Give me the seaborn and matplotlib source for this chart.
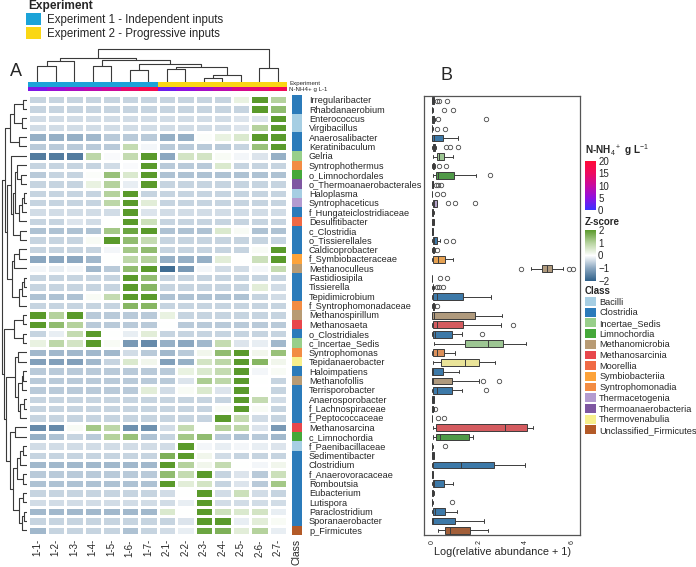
import numpy as np
import pandas as pd
import matplotlib
matplotlib.use("Agg")
import matplotlib.pyplot as plt
import matplotlib.cm as cm
import seaborn as sns
from matplotlib.colors import LinearSegmentedColormap, ListedColormap, Normalize
from matplotlib.patches import Patch

# ---- data ----
samples = ["1-1-", "1-2-", "1-3-", "1-4-", "1-5-", "1-6-", "1-7-",
           "2-1-", "2-2-", "2-3-", "2-4-", "2-5-", "2-6-", "2-7-"]
experiment = [1, 1, 1, 1, 1, 1, 1, 2, 2, 2, 2, 2, 2, 2]
nh4 = [4, 6, 7.5, 9, 10.5, 14, 17, 3, 5, 7, 9, 11.5, 13.5, 16]

taxa = ["Irregularibacter", "Rhabdanaerobium", "Enterococcus", "Virgibacillus",
        "Anaerosalibacter", "Keratinibaculum", "Gelria", "Syntrophothermus",
        "o_Limnochordales", "o_Thermoanaerobacterales", "Haloplasma",
        "Syntrophaceticus", "f_Hungateiclostridiaceae", "Desulfitibacter",
        "c_Clostridia", "o_Tissierellales", "Caldicoprobacter",
        "f_Symbiobacteraceae", "Methanoculleus", "Fastidiosipila", "Tissierella",
        "Tepidimicrobium", "f_Syntrophomonadaceae", "Methanospirillum",
        "Methanosaeta", "o_Clostridiales", "c_Incertae_Sedis", "Syntrophomonas",
        "Tepidanaerobacter", "Haloimpatiens", "Methanofollis", "Terrisporobacter",
        "Anaerosporobacter", "f_Lachnospiraceae", "f_Peptococcaceae",
        "Methanosarcina", "c_Limnochordia", "f_Paenibacillaceae",
        "Sedimentibacter", "Clostridium", "f_Anaerovoracaceae", "Romboutsia",
        "Eubacterium", "Lutispora", "Paraclostridium", "Sporanaerobacter",
        "p_Firmicutes"]

taxon_class = ["Clostridia", "Clostridia", "Bacilli", "Bacilli", "Clostridia",
               "Clostridia", "Incertae_Sedis", "Syntrophomonadia", "Limnochordia",
               "Thermoanaerobacteria", "Bacilli", "Thermacetogenia", "Clostridia",
               "Moorellia", "Clostridia", "Clostridia", "Clostridia",
               "Symbiobacteriia", "Methanomicrobia", "Clostridia", "Clostridia",
               "Clostridia", "Syntrophomonadia", "Methanomicrobia",
               "Methanosarcinia", "Clostridia", "Incertae_Sedis",
               "Syntrophomonadia", "Thermovenabulia", "Clostridia",
               "Methanomicrobia", "Clostridia", "Clostridia", "Clostridia",
               "Clostridia", "Methanosarcinia", "Limnochordia", "Bacilli",
               "Clostridia", "Clostridia", "Clostridia", "Clostridia", "Clostridia",
               "Clostridia", "Clostridia", "Clostridia", "Unclassified_Firmicutes"]

classes = ["Bacilli", "Clostridia", "Incertae_Sedis", "Limnochordia",
           "Methanomicrobia", "Methanosarcinia", "Moorellia", "Symbiobacteriia",
           "Syntrophomonadia", "Thermacetogenia", "Thermoanaerobacteria",
           "Thermovenabulia", "Unclassified_Firmicutes"]
class_colors = ["#a6cee3", "#2b7bba", "#98cf8a", "#45a83a", "#b89b74", "#e8474c",
                "#f06a45", "#fda33a", "#f28c44", "#b39bd0", "#7e57a1", "#f7ef8c",
                "#b35a28"]

# z-scores, one row per taxon, columns as in `samples`
zscore = [
    [-.5, -.5, -.5, -.5, -.5, -.5, -.5, -.5, -.5, -.5, -.5, .3, 2.5, 1.0],
    [-.5, -.5, -.5, -.5, -.5, -.5, -.5, -.5, -.5, -.5, -.5, -.5, 2.5, 1.4],
    [-.4, -.4, -.4, -.4, -.4, -.4, -.4, -.4, -.4, -.4, -.4, -.3, -.3, 2.5],
    [-.4, -.4, -.4, -.4, -.4, -.4, -.4, -.4, -.4, -.4, -.4, -.3, 1.0, 2.5],
    [-.9, -.9, -.9, -.8, -.6, -.6, -.6, -.9, -.9, .05, .3, .5, 2.5, 2.5],
    [-.6, -.6, -.6, -.6, -.6, .8, -.1, -.6, -.6, -.6, -.6, -.5, 1.3, 2.5],
    [-1.6, -1.6, -1.6, .9, -.05, .8, 2.5, -1.0, .6, .6, .1, -.1, -.3, -.9],
    [-.5, -.5, -.5, -.5, -.4, -.05, 2.5, -.6, -.6, -.6, .5, -.5, -.5, -.5],
    [-.6, -.5, -.5, .05, 1.3, .5, 2.5, -.7, -.7, -.7, -.7, -.7, -.7, -.7],
    [-.5, -.5, -.5, .3, 1.0, -.2, 2.5, -.5, -.5, -.5, -.5, -.5, -.5, -.5],
    [-.5, -.5, -.5, -.5, 1.0, 2.5, -.5, -.5, -.5, -.5, -.5, -.5, -.5, -.5],
    [-.5, -.5, -.5, -.5, .9, 2.5, .4, -.5, -.5, -.5, -.5, -.5, -.5, -.5],
    [-.4, -.4, -.4, -.4, -.4, 2.5, -.3, -.4, -.4, -.4, -.4, -.4, -.4, -.4],
    [-.5, -.5, -.3, -.4, 0, 2.5, .7, -.5, -.5, -.5, -.5, -.5, -.5, -.5],
    [-.7, -.7, -.7, -.7, 1.2, 1.8, 2.5, -.7, -.7, -.7, .5, .1, -.7, -.7],
    [-.5, -.5, -.5, .1, 2.5, 1.4, .8, -.5, -.5, -.5, -.5, -.5, -.5, -.5],
    [-.5, -.5, -.5, -.5, -.1, 1.2, 1.4, -.5, -.5, -.5, -.5, -.5, .1, 2.5],
    [-1.0, -1.0, -1.0, -.8, 0, .9, 1.0, -.9, -.9, -.9, .4, 0, .7, 2.5],
    [-.1, -.2, -.1, -.8, -.6, 1.4, 2.5, -1.8, -1.2, -.1, -.4, -.4, -.1, .8],
    [-.5, -.5, -.5, -.5, -.5, 2.5, 1.4, -.5, -.5, -.5, -.5, -.5, -.5, -.5],
    [-.5, -.5, -.5, -.5, -.5, 2.5, 1.5, -.5, -.5, -.5, -.5, -.5, .4, -.4],
    [-.7, -.7, -.7, .1, .8, 2.5, 2.5, -.7, -.7, -.7, -.7, -.7, -.5, -.4],
    [-.5, -.5, -.5, -.5, -.5, 1.5, 1.5, -.5, -.5, -.5, -.5, -.5, -.5, -.5],
    [2.5, 1.0, 2.5, -.6, -.6, -.6, -.6, .3, -.5, -.5, -.5, -.5, -.5, -.5],
    [2.5, 1.4, 1.0, -.6, -.6, -.6, -.6, 0, -.6, -.6, -.6, -.6, -.6, -.6],
    [-.5, -.2, .8, 2.5, 0, -.2, .4, -.5, -.5, -.5, -.5, -.5, -.5, -.5],
    [.3, .9, .6, 2.5, .1, -1.2, -1.4, -.9, -1.0, -.8, .8, -.3, -.2, -.8],
    [-.8, -.8, -.8, -.8, -.8, -.4, -.6, -.8, -.6, .2, 1.4, 2.5, .2, 1.3],
    [-1.1, -1.1, -1.1, -.8, -.5, .5, .2, -1.1, -.9, .6, .9, 2.5, 1.5, .2],
    [-.6, -.6, -.6, -.6, -.6, -.6, -.6, -.6, .3, .5, .8, 2.5, -.1, .1],
    [-.6, -.6, -.6, -.6, -.6, -.6, -.6, -.6, -.3, 1.1, .9, 2.5, 0, -.5],
    [-.6, -.6, -.6, -.6, -.6, -.6, .4, -.4, .1, .5, -.3, 2.5, 0, -.5],
    [-.5, -.5, -.5, -.5, -.5, -.5, -.5, -.5, -.5, -.5, -.5, 2.5, .8, -.4],
    [-.5, -.5, -.5, -.5, -.5, -.5, -.5, -.5, -.5, -.5, .1, 2.5, .1, -.5],
    [-.5, -.5, -.5, -.5, -.5, -.5, -.5, -.5, -.5, -.5, 2.5, .8, -.4, -.5],
    [-1.4, -1.4, .1, 1.2, .9, -1.3, -1.3, -.4, .8, 0, 1.0, .9, -.3, -1.2],
    [-.9, -.7, -.5, -.6, 1.0, 1.3, -.7, -.5, 1.2, 1.4, -.6, -.7, -.6, -.8],
    [-.4, -.4, -.4, -.4, -.4, -.4, -.4, -.4, 2.5, -.1, -.2, -.1, -.2, -.3],
    [-.5, -.5, -.5, -.5, -.5, -.5, -.5, 1.6, 2.5, .2, -.4, -.5, -.5, -.5],
    [-.8, -.8, -.8, -.8, -.8, -.8, -.8, 2.5, 1.0, .2, .8, 0, -.1, .2],
    [-.6, -.6, -.6, -.6, -.6, -.6, -.6, 1.4, .8, 2.5, -.5, -.3, -.6, .7],
    [-.7, -.7, -.7, -.7, -.7, -.7, -.7, 2.5, .4, .6, -.5, -.3, -.6, 1.2],
    [-.5, -.5, -.5, -.5, -.5, -.5, -.5, -.4, 0, 2.5, -.4, .7, -.4, -.5],
    [-.4, -.4, -.4, -.4, -.4, -.4, -.4, -.4, -.2, 2.5, -.4, -.4, -.4, -.4],
    [-.8, -.8, -.8, -.8, -.8, -.8, -.8, .5, 0, 2.5, .7, .5, .6, -.2],
    [-.5, -.5, -.5, -.5, -.5, -.5, -.5, -.5, -.3, 2.5, 2.5, -.2, .4, .1],
    [-.8, -.5, -.5, -.5, -.5, -.7, -.5, -.4, -.2, 1.8, 1.6, .4, 1.0, -.2],
]

# log(relative abundance + 1), 14 samples per taxon
abundance = [
    [0, 0, 0, .01, .02, .03, .04, .05, .06, .07, .09, .22, .28, .65],
    [0, 0, 0, 0, 0, 0, 0, 0, 0, .01, .01, .02, .5, .9],
    [0, 0, 0, .01, .02, .03, .04, .05, .06, .08, .1, .12, .25, 2.3],
    [0, 0, 0, 0, 0, 0, 0, 0, .01, .01, .01, .02, .2, .55],
    [0, 0, 0, .01, .02, .05, .08, .12, .2, .3, .5, .7, .9, 1.1],
    [0, .01, .02, .03, .04, .05, .06, .07, .08, .1, .15, .6, .75, 1.1],
    [.03, .1, .15, .2, .22, .25, .28, .32, .38, .45, .5, .6, .75, .9],
    [0, 0, .01, .02, .03, .04, .05, .06, .07, .08, .1, .12, .3, .6],
    [.03, .08, .12, .16, .2, .22, .24, .26, .4, .7, 1.0, 1.4, 1.9, 2.5],
    [0, 0, 0, 0, .01, .01, .02, .02, .03, .04, .05, .15, .25, .4],
    [0, 0, 0, 0, 0, 0, 0, 0, 0, .01, .01, .01, .2, .45],
    [0, 0, .01, .02, .03, .05, .06, .08, .1, .15, .22, .7, 1.0, 1.85],
    [0, 0, 0, .01, .01, .02, .03, .03, .04, .05, .06, .07, .08, .1],
    [0, 0, 0, .01, .02, .02, .03, .04, .05, .06, .07, .08, .09, .1],
    [0, 0, 0, 0, .01, .01, .01, .02, .02, .03, .03, .04, .04, .05],
    [0, 0, .01, .02, .04, .06, .08, .1, .13, .17, .22, .35, .6, .9],
    [0, 0, .01, .02, .03, .04, .05, .06, .07, .08, .09, .1, .12, .2],
    [0, 0, .01, .02, .1, .18, .22, .28, .35, .45, .6, .7, .8, .91],
    [3.8, 4.23, 4.5, 4.68, 4.75, 4.85, 4.9, 4.98, 5.05, 5.12, 5.18, 5.6, 5.89, 6.06],
    [0, 0, 0, 0, 0, 0, 0, 0, 0, .01, .01, .01, .35, .63],
    [0, .01, .01, .02, .02, .03, .03, .04, .05, .05, .06, .2, .3, .45],
    [0, 0, 0, .01, .05, .12, .18, .22, .5, 1.0, 1.45, 1.8, 2.2, 2.53],
    [0, 0, .01, .02, .03, .04, .05, .06, .07, .08, .09, .1, .12, .2],
    [0, 0, 0, 0, .02, .05, .08, .1, .5, 1.5, 1.95, 2.3, 2.6, 2.99],
    [0, 0, 0, .01, .05, .12, .18, .22, .6, 1.0, 1.45, 2.2, 2.96, 3.49],
    [0, 0, 0, .01, .05, .1, .12, .14, .4, .7, .9, 1.1, 1.3, 2.16],
    [.06, .5, 1.0, 1.35, 1.6, 2.0, 2.3, 2.52, 2.7, 2.95, 3.05, 3.5, 3.8, 4.01],
    [0, 0, 0, .01, .05, .15, .18, .22, .3, .45, .5, .7, .85, .96],
    [.03, .15, .3, .35, .45, .9, 1.3, 1.52, 1.7, 1.95, 2.03, 2.4, 2.55, 2.71],
    [0, 0, 0, 0, .01, .02, .02, .03, .2, .4, .5, .7, .9, 1.14],
    [0, 0, 0, 0, .02, .04, .05, .06, .3, .7, .9, 2.01, 2.2, 2.89],
    [0, 0, 0, .01, .05, .15, .18, .22, .4, .7, .9, 1.1, 1.3, 2.3],
    [0, 0, 0, .01, .02, .02, .03, .04, .05, .06, .07, .08, .09, .1],
    [0, 0, 0, .01, .01, .02, .02, .03, .03, .04, .05, .06, .07, .12],
    [0, 0, 0, 0, 0, 0, 0, 0, 0, .01, .01, .01, .27, .51],
    [.03, .08, .12, .15, .25, 1.5, 3.0, 3.26, 3.6, 3.9, 4.15, 4.2, 4.25, 4.31],
    [.03, .08, .12, .15, .25, .3, .32, .36, .9, 1.5, 1.6, 1.65, 1.7, 1.77],
    [0, 0, 0, 0, 0, 0, 0, 0, 0, .01, .01, .01, .02, .57],
    [0, 0, 0, .01, .02, .02, .03, .04, .05, .06, .07, .08, .09, .1],
    [0, 0, 0, .01, .2, .6, 1.1, 1.36, 1.8, 2.5, 2.68, 3.4, 3.7, 4.0],
    [0, 0, 0, 0, .01, .01, .01, .02, .02, .03, .03, .04, .04, .05],
    [0, 0, 0, .01, .04, .08, .09, .11, .2, .4, .55, .65, .8, .91],
    [0, 0, 0, .01, .01, .02, .02, .03, .04, .05, .06, .07, .08, .1],
    [0, 0, 0, 0, 0, 0, 0, 0, 0, .01, .01, .01, .02, .84],
    [0, 0, 0, .01, .05, .1, .12, .14, .25, .45, .6, .75, .9, 1.06],
    [0, 0, 0, 0, .01, .02, .03, .03, .2, .8, 1.05, 1.5, 1.9, 2.21],
    [.23, .35, .45, .52, .68, .72, .74, .76, .9, 1.5, 1.69, 2.0, 2.2, 2.39],
]

# dendrograms as nested merges (left, right, height); ints are leaf positions
col_tree = ((((0, 1, 45), 2, 60),
             ((3, 4, 45), ((5, 6, 33), ((7, 8, 38), ((9, 10, 12), 11, 20), 42), 50), 62),
             68),
            (12, 13, 40), 95)
row_tree = (((((0, 1, 4), (2, 3, 5), 13), (4, 5, 8), 17),
             ((6, (((7, (8, 9, 6), 10), (((10, 11, 3), 12, 5), 13, 8), 12), (14, 15, 7), 14), 16),
              (((16, 17, 8), 18, 13), ((((19, 20, 3), 21, 5), 22, 8)), 15), 20), 22),
            (((23, 24, 4), (25, 26, 4), 13),
             (((27, 28, 9), ((((29, 30, 4), 31, 5), ((32, 33, 3), 34, 7), 9)), 12),
              ((35, 36, 12), ((((37, 38, 4), 39, 7), (40, 41, 4), 10),
                              ((42, 43, 4), ((44, 45, 3), 46, 5), 8), 14), 17), 21), 23), 25)

exp_labels = ["Experiment 1 - Independent inputs", "Experiment 2 - Progressive inputs"]
exp_colors = ["#1ba3d8", "#fad714"]

# ---- style ----
sns.set_style("white")
plt.rcParams["font.family"] = ["Liberation Sans", "DejaVu Sans"]
plt.rcParams["mathtext.fontset"] = "custom"
plt.rcParams["mathtext.rm"] = "Liberation Sans"
plt.rcParams["mathtext.bf"] = "Liberation Sans:bold"

z_cmap = LinearSegmentedColormap.from_list(
    "z", ["#2f6089", "#8ba7c0", "#ffffff", "#b6d39e", "#5a9a2b"])
nh4_cmap = LinearSegmentedColormap.from_list(
    "nh4", ["#3b30ff", "#9010e0", "#c80aa0", "#ee0a60", "#ff0a36"])

W, H = 696, 567
fig = plt.figure(figsize=(W / 100, H / 100), dpi=100)


def add_ax(x0, y0, x1, y1):
    return fig.add_axes([x0 / W, 1 - y1 / H, (x1 - x0) / W, (y1 - y0) / H])


def draw_tree(ax, node, vertical):
    if isinstance(node, int):
        return node + 0.5, 0.0
    left, right, h = node
    p1, h1 = draw_tree(ax, left, vertical)
    p2, h2 = draw_tree(ax, right, vertical)
    pos = [p1, p1, p2, p2]
    hts = [h1, h, h, h2]
    if vertical:
        ax.plot(pos, hts, color="#3a3a3a", lw=0.8, solid_capstyle="butt")
    else:
        ax.plot(hts, pos, color="#3a3a3a", lw=0.8, solid_capstyle="butt")
    return (p1 + p2) / 2, h


HM_X0, HM_X1, HM_Y0, HM_Y1 = 28, 287, 95, 535

# main heatmap
ax_hm = add_ax(HM_X0, HM_Y0, HM_X1, HM_Y1)
zdf = pd.DataFrame(zscore, index=taxa, columns=samples)
sns.heatmap(zdf, ax=ax_hm, cmap=z_cmap, vmin=-2, vmax=2, cbar=False,
            linewidths=0.9, linecolor="white", xticklabels=True, yticklabels=False)
ax_hm.tick_params(axis="x", length=0, labelsize=7, pad=3, rotation=90)
ax_hm.set_xlabel("")
ax_hm.set_ylabel("")

# class column with taxon names
ax_cl = add_ax(292, HM_Y0, 302, HM_Y1)
codes = pd.DataFrame({"Class": [classes.index(c) for c in taxon_class]}, index=taxa)
sns.heatmap(codes, ax=ax_cl, cmap=ListedColormap(class_colors), vmin=-0.5,
            vmax=len(classes) - 0.5, cbar=False, xticklabels=True, yticklabels=True)
ax_cl.yaxis.set_ticks_position("right")
ax_cl.tick_params(axis="y", length=0, labelsize=6.6, pad=5, labelright=True,
                  labelleft=False, rotation=0)
ax_cl.tick_params(axis="x", length=0, labelsize=7.5, pad=3, rotation=90)
ax_cl.set_ylabel("")

# top annotation bars
ax_exp = add_ax(HM_X0, 82, HM_X1, 86.5)
sns.heatmap(pd.DataFrame([experiment], columns=samples), ax=ax_exp,
            cmap=ListedColormap(exp_colors), vmin=0.5, vmax=2.5, cbar=False,
            xticklabels=False, yticklabels=False)
ax_nh = add_ax(HM_X0, 86.5, HM_X1, 91)
sns.heatmap(pd.DataFrame([nh4], columns=samples), ax=ax_nh, cmap=nh4_cmap,
            vmin=0, vmax=20, cbar=False, xticklabels=False, yticklabels=False)
fig.text(289 / W, 1 - 83.5 / H, "Experiment", fontsize=4.4, va="center")
fig.text(289 / W, 1 - 89.2 / H, "N-NH4+ g L-1", fontsize=4.4, va="center")

# dendrograms
ax_cd = add_ax(HM_X0, 48, HM_X1, 82)
draw_tree(ax_cd, col_tree, vertical=True)
ax_cd.set_xlim(0, len(samples))
ax_cd.set_ylim(0, 97)
ax_cd.axis("off")

ax_rd = add_ax(1, HM_Y0, HM_X0 - 1, HM_Y1)
draw_tree(ax_rd, row_tree, vertical=False)
ax_rd.set_ylim(len(taxa), 0)
ax_rd.set_xlim(26, 0)
ax_rd.axis("off")

# panel B: boxplots
box_df = pd.DataFrame(
    [(t, v) for t, vals in zip(taxa, abundance) for v in vals],
    columns=["taxon", "value"])
palette = {t: class_colors[classes.index(c)] for t, c in zip(taxa, taxon_class)}
ax_bx = add_ax(424, HM_Y0 + 1, 580, HM_Y1)
sns.boxplot(data=box_df, x="value", y="taxon", hue="taxon", order=taxa,
            hue_order=taxa, palette=palette, legend=False, width=0.72,
            linewidth=0.7, linecolor="#3c3c3c", whis=1.5, ax=ax_bx,
            flierprops={"marker": "o", "markerfacecolor": "none",
                        "markeredgecolor": "#4a4a4a", "markersize": 3.2,
                        "markeredgewidth": 0.6})
ax_bx.set_ylim(len(taxa) - 0.5, -0.5)
ax_bx.set_xlim(-0.35, 6.35)
ax_bx.set_xticks([0, 2, 4, 6])
ax_bx.tick_params(axis="x", labelsize=5, rotation=90, length=2, width=0.6, pad=1.5)
ax_bx.set_yticks([])
ax_bx.set_ylabel("")
ax_bx.set_xlabel("Log(relative abundance + 1)", fontsize=7.8, labelpad=2)
for sp in ax_bx.spines.values():
    sp.set_color("#555555")
    sp.set_linewidth(0.9)

# panel letters
fig.text(10 / W, 1 - 72 / H, "A", fontsize=13, va="center")
fig.text(440 / W, 1 - 75 / H, "B", fontsize=13, va="center")

# experiment legend (top left)
fig.text(28 / W, 1 - 6 / H, "Experiment", fontsize=8.6, fontweight="bold",
         va="center", ha="left")
exp_handles = [Patch(facecolor=c, edgecolor="none", label=l)
               for c, l in zip(exp_colors, exp_labels)]
fig.legend(handles=exp_handles, loc="upper left",
           bbox_to_anchor=(26 / W, 1 - 13 / H), frameon=False, fontsize=8.3,
           handlelength=1.3, handleheight=1.2, handletextpad=0.5,
           labelspacing=0.12, borderpad=0.0, borderaxespad=0)

# N-NH4 colour key
fig.text(585 / W, 1 - 150 / H, r"N-NH$_4$$^+$ g L$^{-1}$", fontsize=7.2,
         fontweight="bold", va="center")
cax1 = add_ax(585, 161, 596, 210)
cb1 = fig.colorbar(cm.ScalarMappable(norm=Normalize(0, 20), cmap=nh4_cmap),
                   cax=cax1, ticks=[0, 5, 10, 15, 20])
cb1.outline.set_visible(False)
cax1.tick_params(labelsize=7, length=3, width=0.8, color="white",
                 direction="in", pad=1.5)

# z-score colour key
fig.text(585 / W, 1 - 222 / H, "Z-score", fontsize=7, fontweight="bold",
         va="center")
cax2 = add_ax(585, 230, 596, 281)
cb2 = fig.colorbar(cm.ScalarMappable(norm=Normalize(-2, 2), cmap=z_cmap),
                   cax=cax2, ticks=[-2, -1, 0, 1, 2])
cb2.outline.set_visible(False)
cax2.tick_params(labelsize=7, length=3, width=0.8, color="white",
                 direction="in", pad=1.5)

# class legend
fig.text(585 / W, 1 - 291 / H, "Class", fontsize=7, fontweight="bold",
         va="center", ha="left")
cls_handles = [Patch(facecolor=c, edgecolor="none", label=l)
               for c, l in zip(class_colors, classes)]
fig.legend(handles=cls_handles, loc="upper left",
           bbox_to_anchor=(585 / W, 1 - 297 / H), frameon=False,
           fontsize=6.6, handlelength=1.25, handleheight=1.1,
           handletextpad=0.3, labelspacing=0.13, borderpad=0.0,
           borderaxespad=0)

fig.savefig("out.png", dpi=100)
